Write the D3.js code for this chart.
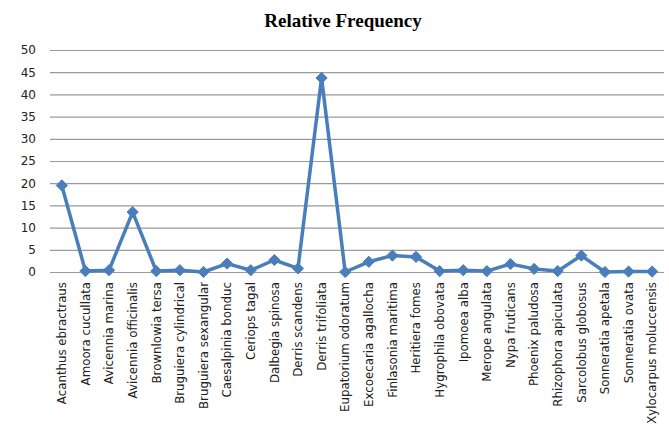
<!DOCTYPE html>
<html>
<head>
<meta charset="utf-8">
<script src="https://cdn.jsdelivr.net/npm/d3@7"></script>
<style>
  body { margin: 0; background: #fff; }
  svg { display: block; }
</style>
</head>
<body>
<svg id="chart" width="669" height="428"></svg>
<script>
// Species names along the x axis
const species = [
  "Acanthus ebractraus", "Amoora cucullata", "Avicennia marina", "Avicennia officinalis",
  "Brownlowia tersa", "Bruguiera cylindrical", "Bruguiera sexangular", "Caesalpinia bonduc",
  "Ceriops tagal", "Dalbegia spinosa", "Derris scandens", "Derris trifoliata",
  "Eupatorium odoratum", "Excoecaria agallocha", "Finlasonia maritima", "Heritiera fomes",
  "Hygrophila obovata", "Ipomoea alba", "Merope angulata", "Nypa fruticans",
  "Phoenix paludosa", "Rhizophora apiculata", "Sarcolobus globosus", "Sonneratia apetala",
  "Sonneratia ovata", "Xylocarpus moluccensis"
];

// Relative frequency (%) of each species
const frequency = [
  19.5, 0.2, 0.4, 13.5,
  0.2, 0.4, 0.0, 1.9,
  0.4, 2.7, 0.8, 43.7,
  0.0, 2.3, 3.7, 3.4,
  0.2, 0.4, 0.2, 1.8,
  0.7, 0.2, 3.7, 0.0,
  0.1, 0.1
];

const yTicks = [0, 5, 10, 15, 20, 25, 30, 35, 40, 45, 50];

const data = species.map((s, i) => ({ name: s, value: frequency[i] }));

const svg = d3.select("#chart");
const margin = { left: 50, top: 50 };
const plotW = 614, plotH = 222;

const g = svg.append("g").attr("transform", `translate(${margin.left},${margin.top})`);

const x = d3.scaleBand().domain(species).range([0, plotW]).padding(0);
const y = d3.scaleLinear().domain([0, 50]).range([plotH, 0]);

// Title
svg.append("text")
  .attr("x", 343).attr("y", 27)
  .attr("text-anchor", "middle")
  .attr("font-family", "Liberation Serif, Times New Roman, serif")
  .attr("font-weight", "bold")
  .attr("font-size", 19)
  .attr("fill", "#000")
  .text("Relative Frequency");

// Horizontal gridlines with tick labels
const yAxis = d3.axisLeft(y).tickValues(yTicks).tickSize(-plotW).tickPadding(14);
const ya = g.append("g").call(yAxis);
ya.select(".domain").remove();
ya.selectAll(".tick line").attr("stroke", "#9a9a9a").attr("stroke-width", 1.2);
ya.selectAll(".tick text")
  .attr("font-family", "DejaVu Sans, Verdana, sans-serif")
  .attr("font-size", 12)
  .attr("fill", "#222");

// Category labels, rotated
const xAxis = d3.axisBottom(x).tickSize(0).tickPadding(0);
const xa = g.append("g").attr("transform", `translate(0,${plotH})`).call(xAxis);
xa.select(".domain").remove();
xa.selectAll(".tick text")
  .attr("font-family", "DejaVu Sans, Verdana, sans-serif")
  .attr("font-size", 11.8)
  .attr("fill", "#222")
  .attr("text-anchor", "end")
  .attr("transform", "rotate(-90)")
  .attr("x", -10)
  .attr("y", 0)
  .attr("dy", "0.36em");

// Series line
const cx = d => x(d.name) + x.bandwidth() / 2;
const line = d3.line().x(cx).y(d => y(d.value));
g.append("path")
  .datum(data)
  .attr("fill", "none")
  .attr("stroke", "#4a7ebb")
  .attr("stroke-width", 3.5)
  .attr("stroke-linejoin", "round")
  .attr("d", line);

// Diamond markers
const diamond = d3.symbol().type(d3.symbolDiamond2).size(80);
g.selectAll(".pt")
  .data(data)
  .join("path")
  .attr("class", "pt")
  .attr("transform", d => `translate(${cx(d)},${y(d.value)})`)
  .attr("d", diamond)
  .attr("fill", "#4a7ebb")
  .attr("stroke", "#4a7ebb")
  .attr("stroke-width", 1);
</script>
</body>
</html>
